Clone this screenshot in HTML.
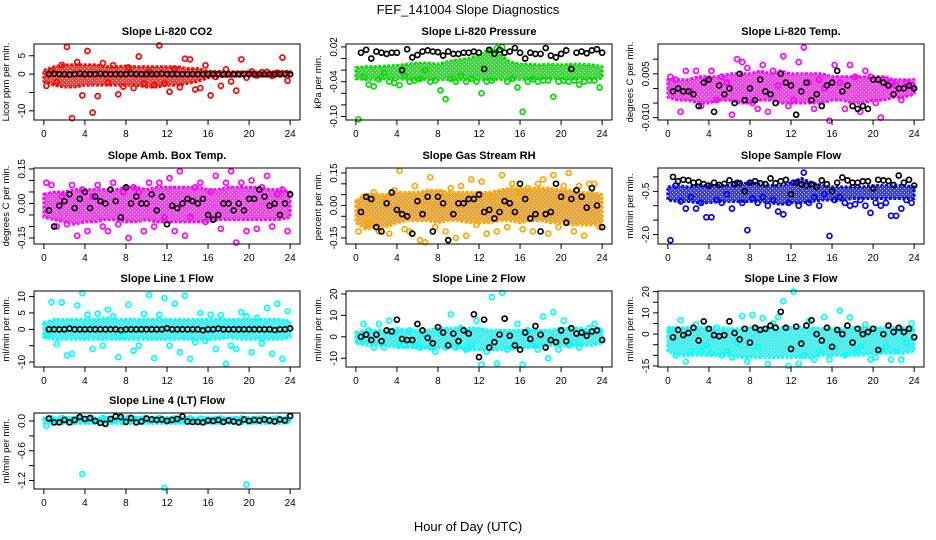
<!DOCTYPE html>
<html><head><meta charset="utf-8"><style>
body{margin:0;background:#fff}
svg{display:block;font-family:"Liberation Sans",Arial,sans-serif}
</style></head><body>
<svg id="c" width="936" height="540" viewBox="0 0 936 540">
<defs>
<pattern id="speck" width="4" height="4" patternUnits="userSpaceOnUse"><rect x="0" y="0" width="1" height="1" fill="#fff" fill-opacity="0.7"/><rect x="2" y="2" width="1" height="1" fill="#fff" fill-opacity="0.7"/></pattern>
</defs>
<text x="468" y="14" text-anchor="middle" font-size="13">FEF_141004  Slope Diagnostics</text>
<text x="468" y="531" text-anchor="middle" font-size="13">Hour of Day (UTC)</text>
</svg>
<script>
const hourTicks = [0,4,8,12,16,20,24];
const co2Lo = [-2,-3,-3.5,-3.5,-3,-3,-3,-3,-3,-3,-3.5,-3.5,-3,-3,-2.5,-2,-1,-0.7,-0.6,-0.6,-0.6,-0.6,-0.6,-0.6,-0.6];
const co2Hi = [1,2,2.5,2.5,2.5,2.5,2,2,2.2,2,2,2,2,2,1.5,1.5,0.8,0.7,0.6,0.6,0.6,0.6,0.6,0.7,0.8];
const co2Pts = [-3.2,0.8,-2.2,2.5,7.4,-12,3.3,-5.8,6.3,-10.5,-6,3,-2.3,2.4,-5.5,-3.4,1.8,-3.8,4.8,-2.6,0.6,-3,7.8,-2.6,-4.8,1.5,-3.6,4.2,4,-4.2,-3.8,2.4,-5.8,-0.8,-3.2,1.3,-2,-4.5,4,-1,0.7,-0.4,0.5,0.6,-0.5,0.4,4.5,-1.8];
const co2Blk = [0,0.1,0,0,-0.1,0,0.1,0,0,0,0.1,0,0,0,0,0,0.1,0,0,0,0,0,0.1,0,0,0,0,0,0,0,0,0,0,0,0,0,0,0,0,0,0,0,0,0,0,0,0,0];
const presLo = [-0.035,-0.036,-0.036,-0.035,-0.035,-0.036,-0.036,-0.036,-0.036,-0.036,-0.036,-0.036,-0.036,-0.036,-0.036,-0.036,-0.036,-0.035,-0.035,-0.035,-0.035,-0.035,-0.035,-0.035,-0.034];
const presHi = [-0.016,-0.014,-0.014,-0.013,-0.012,-0.01,-0.008,-0.008,-0.01,-0.005,-0.002,0.0,0.006,0.016,0.008,-0.006,-0.01,-0.01,-0.011,-0.01,-0.011,-0.01,-0.01,-0.011,-0.014];
const presPts = [-0.105,-0.032,-0.045,-0.048,-0.036,-0.025,-0.04,-0.042,-0.046,-0.03,-0.04,-0.038,-0.035,-0.02,-0.04,-0.038,-0.055,-0.07,-0.035,-0.04,-0.03,-0.04,-0.035,-0.04,-0.06,-0.04,-0.038,0.018,0.02,-0.04,-0.035,-0.05,-0.092,-0.04,-0.036,-0.04,-0.038,-0.038,-0.066,-0.04,-0.038,-0.04,-0.038,-0.045,-0.04,-0.038,-0.038,-0.05];
const presBlk = [0.01,0.015,0.0,0.012,0.01,0.008,0.01,0.01,-0.02,0.016,0.002,0.006,0.012,0.014,0.012,0.011,0.005,0.012,0.008,0.008,0.01,0.01,0.012,0.01,-0.018,0.015,0.008,0.015,0.01,0.012,0.018,0.01,0.0,0.01,0.008,0.008,0.018,0.005,0.002,0.008,0.014,-0.018,0.01,0.012,0.009,0.014,0.016,0.01];
const tempLo = [-0.003,-0.004,-0.004,-0.005,-0.005,-0.004,-0.004,-0.005,-0.005,-0.004,-0.004,-0.005,-0.005,-0.005,-0.005,-0.005,-0.004,-0.004,-0.005,-0.005,-0.004,-0.004,-0.003,-0.003,-0.002];
const tempHi = [0.003,0.003,0.003,0.004,0.004,0.004,0.005,0.005,0.005,0.006,0.005,0.006,0.005,0.005,0.005,0.005,0.004,0.004,0.004,0.004,0.004,0.004,0.003,0.003,0.003];
const tempPts = [0.004,0.003,-0.008,0.006,-0.001,0.006,-0.006,0.003,0.006,-0.004,0.004,0.002,-0.009,0.01,0.009,0.007,-0.005,-0.007,0.008,-0.008,0.006,0.001,0.011,-0.006,-0.004,0.009,0.014,0.002,-0.007,0.003,0.0,-0.011,0.008,0.002,-0.007,0.008,0.004,-0.008,0.006,0.004,-0.005,-0.01,0.003,0.002,0.001,-0.004,0.002,0.001];
const tempBlk = [-0.001,0.0,-0.001,-0.001,-0.002,-0.006,0.002,0.003,-0.008,0.001,-0.002,0.0,-0.005,0.005,-0.004,0.0,-0.004,0.003,-0.001,-0.002,-0.005,0.005,0.002,0.001,-0.009,-0.001,0.002,-0.004,-0.002,-0.006,0.001,0.002,0.006,-0.001,0.001,-0.006,-0.007,-0.006,-0.007,0.003,0.003,0.002,0.001,-0.002,0.0,0.0,0.001,0.0];
const ambLo = [-0.06,-0.07,-0.08,-0.09,-0.08,-0.08,-0.07,-0.07,-0.08,-0.08,-0.07,-0.08,-0.08,-0.08,-0.08,-0.08,-0.08,-0.07,-0.07,-0.07,-0.07,-0.07,-0.07,-0.07,-0.06];
const ambHi = [0.04,0.05,0.05,0.06,0.06,0.06,0.06,0.06,0.07,0.07,0.06,0.07,0.07,0.07,0.07,0.07,0.06,0.06,0.07,0.07,0.07,0.07,0.06,0.06,0.05];
const ambPts = [0.09,0.08,-0.1,0.03,-0.09,0.08,-0.14,0.06,-0.12,0.03,0.08,-0.1,-0.12,0.09,-0.09,0.05,-0.15,0.07,0.05,-0.12,0.09,-0.1,0.09,-0.06,0.11,-0.12,0.14,-0.14,-0.06,0.07,0.09,-0.08,0.05,0.12,-0.11,0.09,0.14,-0.17,0.09,-0.12,0.1,-0.11,0.07,0.12,-0.1,0.04,0.06,-0.12];
const ambBlk = [-0.03,-0.1,-0.01,0.01,0.04,-0.02,0.02,0.05,-0.02,0.03,0.01,0.0,0.06,0.01,-0.06,0.07,0.0,0.03,0.0,0.0,0.04,-0.03,0.03,-0.09,-0.01,-0.02,0.0,0.02,0.01,0.0,0.02,-0.05,-0.07,-0.05,0.0,0.0,-0.03,0.0,-0.03,0.02,0.02,0.06,0.03,-0.01,0.0,-0.05,0.0,0.04];
const rhLo = [-0.08,-0.11,-0.1,-0.1,-0.08,-0.07,-0.07,-0.07,-0.08,-0.07,-0.07,-0.08,-0.08,-0.08,-0.07,-0.07,-0.08,-0.07,-0.07,-0.08,-0.08,-0.09,-0.09,-0.09,-0.08];
const rhHi = [0.02,0.05,0.05,0.05,0.06,0.06,0.06,0.07,0.07,0.06,0.06,0.06,0.06,0.06,0.07,0.08,0.08,0.08,0.08,0.08,0.07,0.07,0.06,0.06,0.05];
const rhPts = [-0.12,0.04,-0.08,0.06,-0.12,0.03,-0.13,0.07,0.16,-0.11,-0.12,0.09,-0.16,-0.17,0.13,-0.1,0.06,-0.12,0.08,-0.15,0.09,-0.14,0.12,-0.09,0.11,-0.13,0.04,-0.12,0.14,-0.1,0.1,0.06,-0.11,0.08,-0.12,0.1,0.12,-0.13,0.14,-0.1,0.09,0.15,-0.12,0.09,-0.14,0.1,0.1,-0.1];
const rhBlk = [-0.03,0.04,0.03,-0.1,-0.12,0.01,0.06,-0.02,-0.04,-0.05,-0.13,0.02,-0.04,0.04,-0.12,0.04,0.01,-0.16,-0.04,0.01,0.01,0.03,0.03,0.05,-0.03,-0.02,-0.06,-0.03,0.02,0.01,-0.03,0.1,0.03,-0.06,-0.04,-0.12,-0.04,-0.03,0.1,0.04,-0.08,0.03,0.07,0.04,-0.01,0.08,0.0,-0.1];
const sfLo = [-0.8,-0.85,-0.85,-0.9,-0.9,-0.85,-0.85,-0.85,-0.85,-0.85,-0.9,-0.95,-0.9,-0.9,-0.85,-0.8,-0.8,-0.8,-0.75,-0.75,-0.75,-0.75,-0.75,-0.75,-0.75];
const sfHi = [-0.35,-0.3,-0.35,-0.3,-0.3,-0.3,-0.3,-0.25,-0.2,-0.25,-0.3,-0.3,-0.2,-0.05,-0.2,-0.3,-0.35,-0.35,-0.35,-0.35,-0.3,-0.3,-0.3,-0.3,-0.35];
const sfPts = [-2.2,-0.3,-0.85,-1.1,-0.7,-1.1,-0.9,-1.4,-1.4,-0.8,-0.9,-0.6,-1.1,-0.2,-0.9,-1.85,-0.75,-0.9,-0.7,-1.0,-0.8,-1.2,-1.3,-0.9,-0.2,-1.0,0.15,-0.9,-0.7,-1.0,-0.6,-2.05,-0.8,-0.7,-0.9,-1.0,-0.95,-0.8,-1.0,-1.25,-0.9,-1.0,-0.9,-1.35,-1.35,-1.1,-0.8,-0.9];
const sfBlk = [0.0,-0.15,-0.1,-0.12,-0.2,-0.18,-0.25,-0.3,-0.2,-0.28,-0.24,-0.12,-0.25,-0.22,-0.5,-0.2,-0.15,-0.22,-0.25,-0.05,-0.22,-0.15,-0.1,-0.6,-0.2,-0.26,-0.3,-0.25,-0.35,-0.12,-0.25,-0.5,-0.2,-0.02,-0.12,-0.2,-0.2,-0.15,-0.15,-0.4,-0.1,-0.12,-0.14,-0.28,0.05,-0.2,-0.1,-0.3];
const l1Lo = [-2.5,-3,-3,-3,-3,-3,-3,-3,-3,-3,-3,-3,-3,-3,-3,-3,-3,-3,-2.5,-3,-3,-3,-3,-3,-2.5];
const l1Hi = [2,3,3,3,3,3,3.5,3,3,3,3,3,3,3,3,3,3,3,3,3,3,3,3,3,2.5];
const l1Pts = [-2,8.3,-4.5,8.2,-8,-7.5,7.3,11,4.5,-6,4.8,-5,6,4,-8.5,-2,7.5,-6.5,-5,4.7,10.5,-8.8,4.5,9.5,-5,7.8,-7,10.3,-9,-4,5,-3.5,4.5,-6,4.3,-10.5,-5,-6,5.2,4,-7,3.5,-4.3,6.5,-7.5,7.8,-9,5.5];
const l1Blk = [0,0,0,0,0.2,0,0,0,0,0,0,0,0,0,-0.2,0,0,0,0,0,0,0,0,0.3,0,0,0,0,0,0,-0.3,0,0,0.2,0,0,0,0,0,0,0,0,0,0,-0.2,0,0,0.3];
const l2Lo = [-3,-4,-4,-4,-5,-5,-5,-5,-5,-5,-5,-6,-6,-6,-6,-5,-5,-5,-4,-4,-4,-4,-4,-4,-3];
const l2Hi = [2,3,3,3,4,3,3,3,4,4,4,4,4,3,3,3,3,3,3,3,4,4,4,3,3];
const l2Pts = [-2,6,3,-5,6,-5,7.5,2,-3,-4,3,-4,-5,1,-5,-7,3,-5,10.5,-5,4,-6,-4,7.5,-13,-7,18.5,-12.5,20.5,-6,-5,6,-13,3,-4,-6,9.5,-10,11.5,-6,7.5,-4,-3,-5,2,4,6,3];
const l2Blk = [0,1,-1.5,1,-2,3,2.5,8,-1,-1.5,-1.5,6,3,-0.5,-3,4.5,2,-4,1.5,-2,3,1.5,10.5,-9.5,8,-5,-2.5,1,8.5,0.5,-4,-6,2,-1,5,1,-5,-1.5,-2.5,3,-2,4,1.5,2,0.5,2.5,3,-1.5];
const l3Lo = [-8,-10,-10,-10,-10,-10,-10,-11,-11,-11,-11,-11,-11,-11,-11,-10,-10,-10,-10,-10,-9,-9,-9,-9,-8];
const l3Hi = [3,3,3,3,3,3,2.5,2.5,3,3,3,3,3,3,3,2.5,2.5,2.5,3,3,3,3,3,3,3];
const l3Pts = [2,-10,6.5,-13,-8,4.5,-8,-5,-9,3,-10,-8,-11,-4,8.5,-13,9,-6,7.5,-14,5,8,15.5,-15,20,-14,-10,6,-12,-8,8,-12,-6,11,-10,7.8,-8,-6,4.5,-12,-11,-8,-6,-12,-8,-12,-4,5];
const l3Blk = [-1.5,2,-0.5,0.5,3,-3,6,2.5,-0.5,-1,-0.5,6,0.5,-2.5,2.5,-4,3,2,2.5,4,3,10.5,3,-7,3.5,-4.5,4,6.5,0,-3,3,-6,2,0,4,-4,2.5,0,1,2.5,-7.5,0,4,1,3,1,2.5,-1.5];
const l4Lo = [-0.04,-0.05,-0.05,-0.05,-0.05,-0.05,-0.05,-0.05,-0.05,-0.05,-0.05,-0.05,-0.05,-0.05,-0.05,-0.05,-0.05,-0.05,-0.05,-0.05,-0.05,-0.05,-0.05,-0.05,-0.04];
const l4Hi = [0.06,0.06,0.07,0.07,0.07,0.06,0.06,0.07,0.07,0.07,0.06,0.07,0.07,0.07,0.06,0.06,0.06,0.06,0.06,0.06,0.07,0.07,0.06,0.06,0.06];
const l4Pts = [-0.1,0.05,0.0,0.06,0.04,-0.02,0.05,-1.07,0.0,0.05,0.0,0.06,0.04,0.0,0.05,-0.03,0.06,0.0,0.04,0.05,0.0,0.04,0.06,-1.35,0.02,0.05,0.0,0.04,0.05,0.0,0.05,0.03,0.0,0.04,0.05,0.0,0.03,0.04,0.05,-1.28,0.0,0.04,0.05,0.0,0.04,0.05,0.02,0.05];
const l4Blk = [0.05,-0.03,-0.03,0.02,-0.03,0.02,0.08,0.04,0.06,0.0,-0.04,-0.06,0.04,0.09,0.08,-0.02,0.06,-0.03,-0.01,0.05,0.03,0.02,0.03,0.0,0.02,0.04,0.09,-0.01,-0.02,-0.02,-0.03,0.01,0.0,0.02,-0.02,0.01,-0.01,-0.03,0.03,0.0,0.02,0.01,0.03,0.01,-0.01,0.03,0.01,0.1];

const panels = [
 {name:'co2',title:'Slope Li-820 CO2',ylab:'Licor ppm per min.',col:'#ff0000',band:'#ff1010',r:0,c:0,y0:-12.5,y1:8.2,ticks:[-10,-5,0,5],labs:['-10','','0','5'],lo:co2Lo,hi:co2Hi,pts:co2Pts,blk:co2Blk},
 {name:'pressure',title:'Slope Li-820 Pressure',ylab:'kPa per min.',col:'#00dd00',band:'#11cc11',r:0,c:1,y0:-0.106,y1:0.025,ticks:[-0.10,-0.08,-0.06,-0.04,-0.02,0,0.02],labs:['-0.10','','','-0.04','','','0.02'],lo:presLo,hi:presHi,pts:presPts,blk:presBlk},
 {name:'li820-temp',title:'Slope Li-820 Temp.',ylab:'degrees C per min.',col:'#ff00ff',band:'#ff11ee',r:0,c:2,y0:-0.0108,y1:0.0152,ticks:[-0.01,-0.005,0,0.005,0.01],labs:['-0.010','','','0.005',''],lo:tempLo,hi:tempHi,pts:tempPts,blk:tempBlk},
 {name:'amb-box-temp',title:'Slope Amb. Box Temp.',ylab:'degrees C per min.',col:'#ff00ff',band:'#ff11ee',r:1,c:0,y0:-0.176,y1:0.154,ticks:[-0.15,-0.1,-0.05,0,0.05,0.1,0.15],labs:['-0.15','','','0.00','','','0.15'],lo:ambLo,hi:ambHi,pts:ambPts,blk:ambBlk},
 {name:'gas-stream-rh',title:'Slope Gas Stream RH',ylab:'percent per min.',col:'#ffa500',band:'#f08a00',r:1,c:1,y0:-0.178,y1:0.173,ticks:[-0.15,-0.1,-0.05,0,0.05,0.1,0.15],labs:['-0.15','','','0.00','','','0.15'],lo:rhLo,hi:rhHi,pts:rhPts,blk:rhBlk},
 {name:'sample-flow',title:'Slope Sample Flow',ylab:'ml/min per min.',col:'#0000ff',band:'#1010ee',r:1,c:2,y0:-2.33,y1:0.31,ticks:[-2,-1.5,-1,-0.5,0],labs:['-2.0','','','-0.5',''],lo:sfLo,hi:sfHi,pts:sfPts,blk:sfBlk},
 {name:'line1-flow',title:'Slope Line 1 Flow',ylab:'ml/min per min.',col:'#00ffff',band:'#11eeee',r:2,c:0,y0:-11.5,y1:11.7,ticks:[-10,-5,0,5,10],labs:['-10','','0','5','10'],lo:l1Lo,hi:l1Hi,pts:l1Pts,blk:l1Blk},
 {name:'line2-flow',title:'Slope Line 2 Flow',ylab:'ml/min per min.',col:'#00ffff',band:'#11eeee',r:2,c:1,y0:-14.1,y1:21.4,ticks:[-10,0,10,20],labs:['-10','0','10','20'],lo:l2Lo,hi:l2Hi,pts:l2Pts,blk:l2Blk},
 {name:'line3-flow',title:'Slope Line 3 Flow',ylab:'ml/min per min.',col:'#00ffff',band:'#11eeee',r:2,c:2,y0:-15.5,y1:20.3,ticks:[-15,-10,-5,0,5,10,15,20],labs:['-15','','','0','','10','','20'],lo:l3Lo,hi:l3Hi,pts:l3Pts,blk:l3Blk},
 {name:'line4-flow',title:'Slope Line 4 (LT) Flow',ylab:'ml/min per min.',col:'#00ffff',band:'#11eeee',r:3,c:0,y0:-1.37,y1:0.16,ticks:[-1.2,-0.9,-0.6,-0.3,0],labs:['-1.2','','-0.6','','0.0'],lo:l4Lo,hi:l4Hi,pts:l4Pts,blk:l4Blk}
];

const NS='http://www.w3.org/2000/svg';
const svg=document.getElementById('c');
function mk(tag,attrs,parent,txt){const e=document.createElementNS(NS,tag);for(const k in attrs)e.setAttribute(k,attrs[k]);if(txt!==undefined)e.textContent=txt;parent.appendChild(e);return e;}
const colL=[34,346,658], rowT=[44,168,291,413], W=266, H=76;
panels.forEach(p=>{
  const L=colL[p.c], T=rowT[p.r], B=T+H, R=L+W;
  const sx=h=>L+W*(h+0.96)/25.92;
  const sy=v=>B-H*(v-p.y0)/(p.y1-p.y0);
  const g=mk('g',{},svg);
  
  
  const t=mk('text',{x:(L+R)/2,y:T-9,'text-anchor':'middle','font-size':11,'font-weight':'bold'},g,p.title);
  
  
  const yl=mk('text',{x:0,y:0,'text-anchor':'middle','font-size':9.5,transform:`translate(${L-25},${T+H/2}) rotate(-90)`},g,p.ylab);
  
  
  let d='';
  p.hi.forEach((v,i)=>{d+=(i?'L':'M')+sx(i).toFixed(1)+','+sy(v).toFixed(1);});
  for(let i=p.lo.length-1;i>=0;i--)d+='L'+sx(i).toFixed(1)+','+sy(p.lo[i]).toFixed(1);
  const band=mk('path',{d:d+'Z',fill:p.band,'fill-opacity':0.8,stroke:p.col,'stroke-width':3,'stroke-linejoin':'round','stroke-dasharray':'3 1.5'},g);
  
  
  const sp=mk('path',{d:d+'Z',fill:'url(#speck)'},g);
  
  
  p.pts.forEach((v,i)=>{
    const c=mk('circle',{cx:sx(0.25+0.5*i),cy:sy(v),r:2.5,fill:'none',stroke:p.col,'stroke-width':1.7},g);
    
    
  });
  p.blk.forEach((v,i)=>{
    const c=mk('circle',{cx:sx(0.5+0.5*i),cy:sy(v),r:2.5,fill:'none',stroke:'#000','stroke-width':1.7},g);
    
    
  });
  const box=mk('rect',{x:L,y:T,width:W,height:H,fill:'none',stroke:'#000','stroke-width':1},g);
  
  
  mk('line',{x1:sx(0),x2:sx(24),y1:B,y2:B,stroke:'#000'},g);
  hourTicks.forEach(h=>{
    mk('line',{x1:sx(h),x2:sx(h),y1:B,y2:B+5,stroke:'#000'},g);
    const tl=mk('text',{x:sx(h),y:B+17,'text-anchor':'middle','font-size':10},g,String(h));
    
    
  });
  p.ticks.forEach((v,i)=>{
    mk('line',{x1:L-5,x2:L,y1:sy(v),y2:sy(v),stroke:'#000'},g);
    if(p.labs[i]){
      const tl=mk('text',{x:0,y:0,'text-anchor':'middle','font-size':10,transform:`translate(${L-9},${sy(v)}) rotate(-90)`},g,p.labs[i]);
      
      
    }
  });
});
</script>
</body></html>
